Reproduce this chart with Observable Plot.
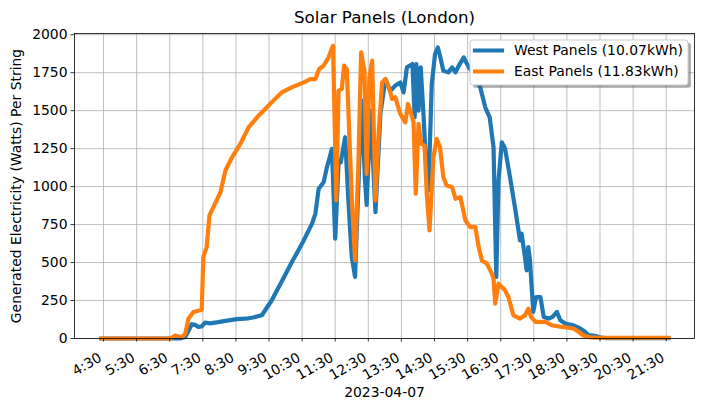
<!DOCTYPE html>
<html>
<head>
<meta charset="utf-8">
<script src="https://cdn.jsdelivr.net/npm/d3@7"></script>
<script src="https://cdn.jsdelivr.net/npm/@observablehq/plot@0.6"></script>
<style>
  html, body { margin: 0; padding: 0; background: #fff; }
  #chart svg { display: block; font-family: "DejaVu Sans", sans-serif; }
</style>
</head>
<body>
<div id="chart"></div>
<script>
// Generation per string on 2023-04-07, sampled through the day (local time, HH:MM)
const westTime = ["4:26","6:49","6:58","7:04","7:10","7:16","7:22","7:28","7:34","7:43","7:58","8:14","8:32","8:53","9:01","9:17","9:35","9:53","10:11","10:30","10:48","10:54","11:00","11:09","11:15","11:19","11:24","11:30","11:36","11:40","11:48","11:54","12:00","12:06","12:14","12:18","12:24","12:27","12:34","12:43","12:52","13:01","13:10","13:19","13:28","13:34","13:40","13:50","13:54","13:57","14:01","14:05","14:10","14:14","14:19","14:25","14:31","14:36","14:40","14:46","14:55","15:02","15:08","15:13","15:23","15:32","15:42","15:53","16:02","16:10","16:17","16:22","16:26","16:32","16:38","16:47","16:56","17:05","17:08","17:13","17:17","17:20","17:23","17:29","17:34","17:42","17:48","17:57","18:04","18:12","18:18","18:27","18:42","18:54","19:03","19:09","19:21","19:30","19:39","21:34"];
const westWatts = [0,0,10,50,94,90,76,80,105,100,108,118,128,133,138,153,252,375,500,625,756,821,986,1029,1128,1180,1249,657,1150,1160,1325,900,537,405,1200,1566,1040,880,1500,832,1480,1708,1631,1665,1686,1620,1785,1807,1456,1807,1500,1785,1478,1193,975,1676,1873,1916,1862,1763,1752,1785,1752,1790,1851,1785,1740,1653,1522,1456,1259,405,1040,1292,1249,1060,860,646,690,560,449,602,516,175,273,273,142,131,142,175,120,98,87,66,44,22,18,8,3,3];

const eastTime = ["4:26","6:31","6:40","6:45","6:53","6:58","7:04","7:13","7:25","7:28","7:31","7:37","7:42","7:52","8:02","8:11","8:23","8:38","8:53","9:11","9:23","9:38","9:53","10:11","10:33","10:45","10:54","11:01","11:09","11:18","11:26","11:32","11:36","11:42","11:46","11:51","12:00","12:06","12:12","12:17","12:23","12:27","12:32","12:37","12:43","12:49","12:55","13:01","13:10","13:13","13:19","13:28","13:37","13:42","13:48","13:52","13:56","14:01","14:06","14:12","14:16","14:21","14:28","14:34","14:40","14:46","14:52","15:02","15:08","15:17","15:26","15:35","15:44","15:50","15:56","16:05","16:14","16:17","16:20","16:26","16:32","16:38","16:44","16:53","17:05","17:14","17:20","17:25","17:33","17:51","18:03","18:21","18:42","18:51","19:00","19:12","19:30","21:34"];
const eastWatts = [0,0,20,15,10,30,131,175,186,190,537,602,810,887,963,1106,1193,1281,1390,1467,1511,1566,1620,1653,1686,1708,1708,1774,1796,1851,1927,909,1631,1643,1796,1774,930,514,1151,1884,1763,1084,1719,1829,909,1369,1686,1708,1620,1577,1588,1478,1423,1544,1478,1423,953,1413,1281,1270,953,712,1193,1314,1259,1062,1007,996,920,930,777,733,733,602,514,493,427,394,230,361,339,317,273,153,131,153,197,142,109,109,87,76,66,44,20,8,5,5];

const seriesNames = ["West Panels (10.07kWh)", "East Panels (11.83kWh)"];
const seriesColors = ["#1f77b4", "#ff7f0e"];
const xTickLabels = ["4:30","5:30","6:30","7:30","8:30","9:30","10:30","11:30","12:30","13:30","14:30","15:30","16:30","17:30","18:30","19:30","20:30","21:30"];
const yTicks = [0, 250, 500, 750, 1000, 1250, 1500, 1750, 2000];
const titleText = "Solar Panels (London)";
const xLabel = "2023-04-07";
const yLabel = "Generated Electricity (Watts) Per String";

const toDate = hm => {
  const [h, m] = hm.split(":").map(Number);
  return new Date(Date.UTC(2023, 3, 7, h, m));
};
const west = westTime.map((t, i) => ({time: toDate(t), watts: westWatts[i]}));
const east = eastTime.map((t, i) => ({time: toDate(t), watts: eastWatts[i]}));
const xTicks = xTickLabels.map(toDate);

const gridStyle = {stroke: "#b0b0b0", strokeOpacity: 1, strokeWidth: 0.8};

const chart = Plot.plot({
  width: 704,
  height: 409,
  marginLeft: 74,
  marginRight: 10,
  marginTop: 33,
  marginBottom: 71,
  style: {fontFamily: "DejaVu Sans, sans-serif", fontSize: "13.9px", color: "black", background: "white"},
  x: {type: "utc", domain: [new Date(Date.UTC(2023, 3, 7, 3, 37, 24)), new Date(Date.UTC(2023, 3, 7, 22, 21, 18))]},
  y: {domain: [0, 2008]},
  marks: [
    Plot.gridX(xTicks, gridStyle),
    Plot.gridY(yTicks, gridStyle),
    Plot.line(west, {x: "time", y: "watts", stroke: seriesColors[0], strokeWidth: 4.2, strokeLinejoin: "round", strokeLinecap: "square"}),
    Plot.line(east, {x: "time", y: "watts", stroke: seriesColors[1], strokeWidth: 4.2, strokeLinejoin: "round", strokeLinecap: "square"}),
    Plot.frame({stroke: "black", strokeWidth: 0.8}),
    Plot.axisY(yTicks, {tickSize: 3.5, tickPadding: 3.5, tickFormat: d => String(d), label: null, stroke: "black", strokeWidth: 0.8}),
    Plot.axisX(xTicks, {tickSize: 3.5, tickFormat: () => "", label: null, stroke: "black", strokeWidth: 0.8}),
    Plot.text(xTickLabels, {x: d => toDate(d), text: d => d, frameAnchor: "bottom", textAnchor: "end", lineAnchor: "middle", rotate: -30, dx: -3, dy: 18, fill: "black"}),
    Plot.text([titleText], {text: d => d, frameAnchor: "top", textAnchor: "middle", lineAnchor: "middle", dy: -16, fontSize: 16.7, fill: "black"}),
    Plot.text([xLabel], {text: d => d, frameAnchor: "bottom", textAnchor: "middle", lineAnchor: "middle", dy: 54, fill: "black"}),
    Plot.text([yLabel], {text: d => d, frameAnchor: "left", textAnchor: "middle", lineAnchor: "middle", rotate: -90, dx: -58, fill: "black"})
  ]
});

document.getElementById("chart").appendChild(chart);

// Legend box in the upper-right corner of the axes, with a drop shadow
const svg = d3.select(chart);
const lg = svg.append("g")
  .attr("font-family", "DejaVu Sans, sans-serif")
  .attr("font-size", "13.9px")
  .attr("text-anchor", "start");
const box = {x: 470, y: 40, w: 218, h: 45};
lg.append("rect").attr("x", box.x + 2.8).attr("y", box.y + 2.8).attr("width", box.w).attr("height", box.h)
  .attr("rx", 2.8).attr("fill", "#4d4d4d").attr("fill-opacity", 0.5);
lg.append("rect").attr("x", box.x).attr("y", box.y).attr("width", box.w).attr("height", box.h)
  .attr("rx", 2.8).attr("fill", "white").attr("stroke", "#cccccc").attr("stroke-width", 1);
seriesNames.forEach((name, i) => {
  const cy = box.y + 10.5 + i * 21;
  lg.append("line").attr("x1", 475).attr("x2", 502).attr("y1", cy).attr("y2", cy)
    .attr("stroke", seriesColors[i]).attr("stroke-width", 4.2).attr("stroke-linecap", "square");
  lg.append("text").attr("x", 514).attr("y", cy).attr("dy", "0.35em").attr("fill", "black").text(name);
});
</script>
</body>
</html>
